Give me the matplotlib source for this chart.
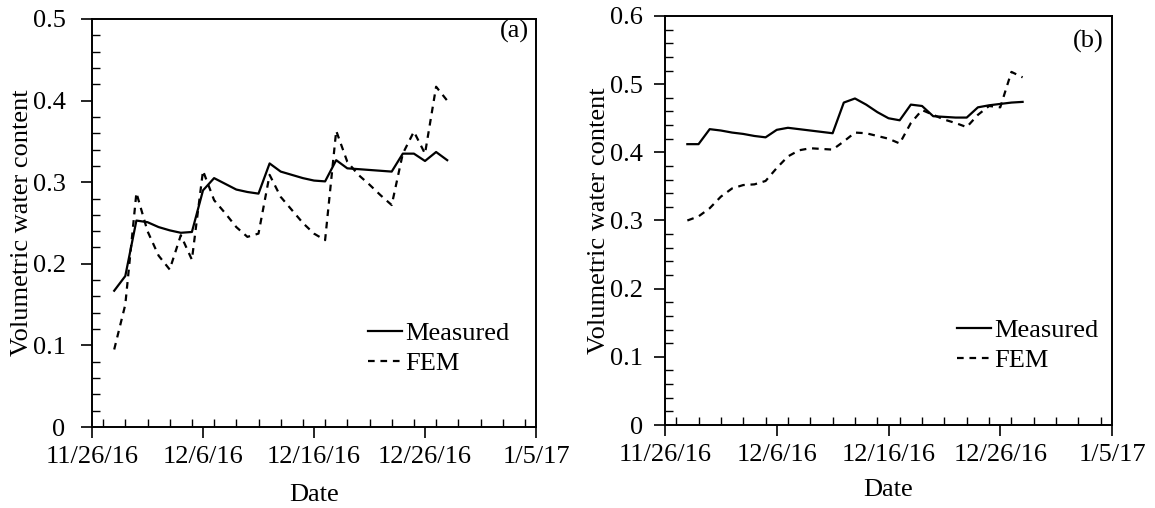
import matplotlib
matplotlib.use("Agg")
import matplotlib.pyplot as plt
import matplotlib.dates as mdates
from matplotlib.ticker import MultipleLocator
import datetime as dt

plt.rcParams['font.family'] = ['Liberation Serif', 'DejaVu Serif']
plt.rcParams['font.size'] = 19

start = dt.date(2016, 11, 26)

# Panel (a)
days_a = [2, 3, 4, 5, 6, 7, 8, 9, 10, 11, 12, 13, 14, 15, 16, 17, 18, 19, 20, 21,
          22, 23, 24, 25, 26, 27, 28, 29, 30, 31, 32]
measured_a = [0.167, 0.185, 0.253, 0.251, 0.245, 0.241, 0.238, 0.239, 0.290, 0.305,
              0.298, 0.291, 0.288, 0.286, 0.323, 0.313, 0.309, 0.305, 0.302, 0.301,
              0.327, 0.317, 0.316, 0.315, 0.314, 0.313, 0.335, 0.335, 0.326, 0.337, 0.327]
fem_a = [0.095, 0.150, 0.287, 0.240, 0.210, 0.193, 0.235, 0.205, 0.314, 0.278,
         0.262, 0.245, 0.233, 0.237, 0.309, 0.282, 0.266, 0.250, 0.237, 0.229,
         0.363, 0.325, 0.309, 0.297, 0.284, 0.272, 0.335, 0.362, 0.335, 0.417, 0.400]

# Panel (b)
days_b = [2, 3, 4, 5, 6, 7, 8, 9, 10, 11, 12, 13, 14, 15, 16, 17, 18, 19, 20, 21,
          22, 23, 24, 25, 26, 27, 28, 29, 30, 31, 32]
measured_b = [0.412, 0.412, 0.434, 0.432, 0.429, 0.427, 0.424, 0.422, 0.433, 0.436,
              0.434, 0.432, 0.430, 0.428, 0.473, 0.479, 0.470, 0.459, 0.450, 0.447,
              0.470, 0.468, 0.453, 0.452, 0.451, 0.451, 0.466, 0.469, 0.471, 0.473, 0.474]
fem_b = [0.300, 0.306, 0.318, 0.335, 0.347, 0.352, 0.353, 0.358, 0.377, 0.394,
         0.403, 0.406, 0.405, 0.404, 0.416, 0.429, 0.428, 0.424, 0.420, 0.413,
         0.443, 0.462, 0.455, 0.448, 0.443, 0.437, 0.455, 0.468, 0.466, 0.518, 0.510]

xtick_labels = ['11/26/16', '12/6/16', '12/16/16', '12/26/16', '1/5/17']
series_labels = ['Measured', 'FEM']
ylabel = 'Volumetric water content'
xlabel = 'Date'

W, H = 1155, 508
fig = plt.figure(figsize=(W / 100, H / 100), dpi=100)


def to_dates(days):
    return [start + dt.timedelta(days=d) for d in days]


def make_panel(rect, days, meas, fem, ymax, tag, ypad, xlpad, leg_anchor, tag_pos):
    ax = fig.add_axes(rect)
    x = to_dates(days)
    ax.plot(x, meas, color='black', lw=1.6, label=series_labels[0])
    ax.plot(x, fem, color='black', lw=1.6, ls=(0, (3.0, 2.6)), label=series_labels[1])
    x0 = mdates.date2num(start)
    ax.set_xlim(x0, x0 + 40)
    ax.set_ylim(0, ymax)
    ax.set_xticks([x0 + 10 * i for i in range(5)])
    ax.set_xticklabels(xtick_labels)
    ax.xaxis.set_minor_locator(MultipleLocator(2))
    ax.yaxis.set_major_locator(MultipleLocator(0.1))
    ax.yaxis.set_minor_locator(MultipleLocator(0.02))
    ax.yaxis.set_major_formatter(matplotlib.ticker.FuncFormatter(
        lambda v, p: '0' if abs(v) < 1e-9 else ('%.1f' % v)))
    ax.tick_params(which='major', direction='out', length=8, width=1.2)
    ax.tick_params(which='minor', direction='in', length=6, width=1.0)
    ax.tick_params(axis='y', which='major', pad=ypad)
    ax.tick_params(axis='x', which='major', pad=6)
    for s in ax.spines.values():
        s.set_linewidth(1.4)
    ax.set_ylabel(ylabel, labelpad=0)
    ax.set_xlabel(xlabel, labelpad=xlpad)
    ax.legend(loc='upper left', bbox_to_anchor=leg_anchor,
              bbox_transform=fig.transFigure, frameon=False,
              handlelength=1.3, handletextpad=0.1, borderpad=0,
              borderaxespad=0, labelspacing=0.23)
    ax.text(tag_pos[0], tag_pos[1], tag, transform=fig.transFigure,
            ha='right', va='center')
    return ax


make_panel([92 / W, 1 - 427 / H, (536 - 92) / W, (427 - 19) / H],
           days_a, measured_a, fem_a, 0.5, '(a)', 11, 11,
           (368 / W, 1 - 322 / H), (529 / W, 1 - 31 / H))
make_panel([665 / W, 1 - 425 / H, (1112 - 665) / W, (425 - 16) / H],
           days_b, measured_b, fem_b, 0.6, '(b)', 8, 9,
           (957 / W, 1 - 319 / H), (1104 / W, 1 - 41 / H))

fig.savefig('out.png', dpi=100)
